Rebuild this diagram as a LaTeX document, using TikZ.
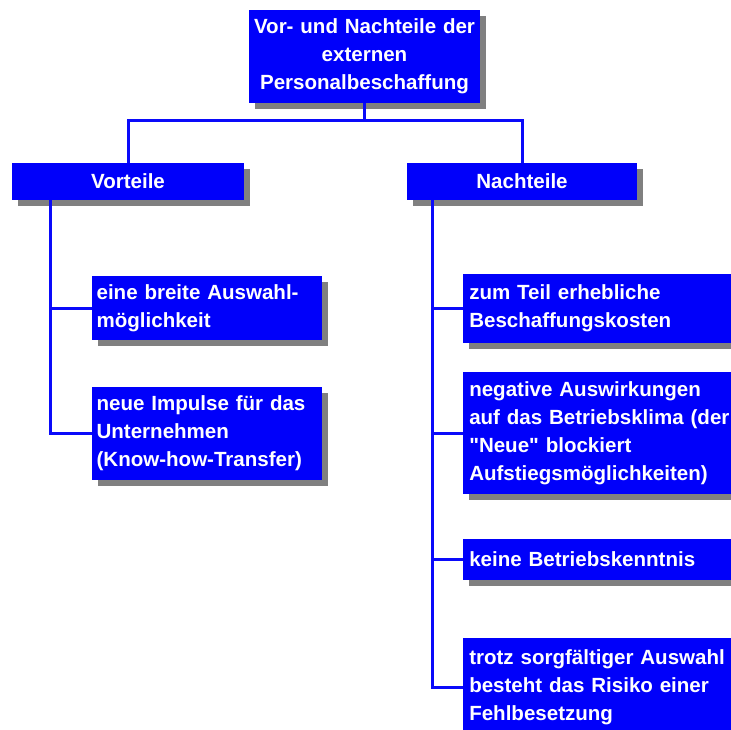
\documentclass[tikz,border=0pt]{standalone}
\usepackage{fontspec}
\setmainfont{Liberation Sans}[Ligatures=TeXOff]
\usetikzlibrary{shadows,calc}
\definecolor{boxblue}{RGB}{0,0,250}
\definecolor{shadowgray}{RGB}{128,128,128}
\definecolor{lineblue}{RGB}{10,10,250}
\begin{document}
\begin{tikzpicture}[x=0.75pt,y=-0.75pt,
  box/.style={fill=boxblue, text=white, inner xsep=4.5pt, inner ysep=0pt,
    font=\bfseries\fontsize{15.4pt}{21pt}\selectfont,
    general shadow={fill=shadowgray, shadow xshift=4.5pt, shadow yshift=-4.5pt}},
  link/.style={draw=lineblue, line width=2.25pt}]
\useasboundingbox (0,0) rectangle (731,729);
\clip (0,0) rectangle (731,729);
\fill[white] (0,0) rectangle (731,729);
\node[box, align=center, minimum width=173.25pt, minimum height=69.75pt, text width=173.25pt, inner xsep=0pt]
  (title) at (364.5,56.5) {Vor- und Nachteile der\\externen\\Personalbeschaffung};
\node[box, align=center, minimum width=174pt, minimum height=27.75pt, text width=165pt]
  (vort) at (128,181.5) {Vorteile};
\node[box, align=center, minimum width=172.5pt, minimum height=27.75pt, text width=163.5pt]
  (nacht) at (522,181.5) {Nachteile};
\node[box, anchor=west, align=left, minimum width=172.5pt, minimum height=48pt, text width=166pt, inner xsep=3.25pt]
  (l1) at (92,308) {eine breite Auswahl-\\möglichkeit};
\node[box, anchor=west, align=left, minimum width=172.5pt, minimum height=69.75pt, text width=166pt, inner xsep=3.25pt]
  (l2) at (92,433.5) {neue Impulse für das\\Unternehmen\\(Know-how-Transfer)};
\node[box, anchor=west, align=left, minimum width=225pt, minimum height=51.75pt, text width=216pt]
  (r1) at (463,308.5) {zum Teil erhebliche\\Beschaffungskosten};
\node[box, anchor=west, align=left, minimum width=225pt, minimum height=91.5pt, text width=216pt]
  (r2) at (463,433) {negative Auswirkungen\\auf das Betriebsklima (der\\"Neue" blockiert\\Aufstiegsmöglichkeiten)};
\node[box, anchor=west, align=left, minimum width=225pt, minimum height=30.75pt, text width=216pt]
  (r3) at (463,559.5) {keine Betriebskenntnis};
\node[box, anchor=west, align=left, minimum width=225pt, minimum height=73.5pt, text width=216pt]
  (r4) at (463,687) {trotz sorgfältiger Auswahl\\besteht das Risiko einer\\Fehlbesetzung\\[14pt]};
% connectors
\coordinate (hub) at ($(title.south)+(0,17)$);
\draw[link] (title.south) -- (hub);
\draw[link] (hub) -| (vort.north);
\draw[link] (hub) -| (nacht.north);
\coordinate (lt) at ($(vort.south west)+(39,0)$);
\draw[link] (lt) |- (l2.west);
\draw[link] (lt |- l1.west) -- (l1.west);
\coordinate (rt) at ($(nacht.south west)+(26,0)$);
\draw[link] (rt) |- (r4.west);
\draw[link] (rt |- r1.west) -- (r1.west);
\draw[link] (rt |- r2.west) -- (r2.west);
\draw[link] (rt |- r3.west) -- (r3.west);
\end{tikzpicture}
\end{document}
